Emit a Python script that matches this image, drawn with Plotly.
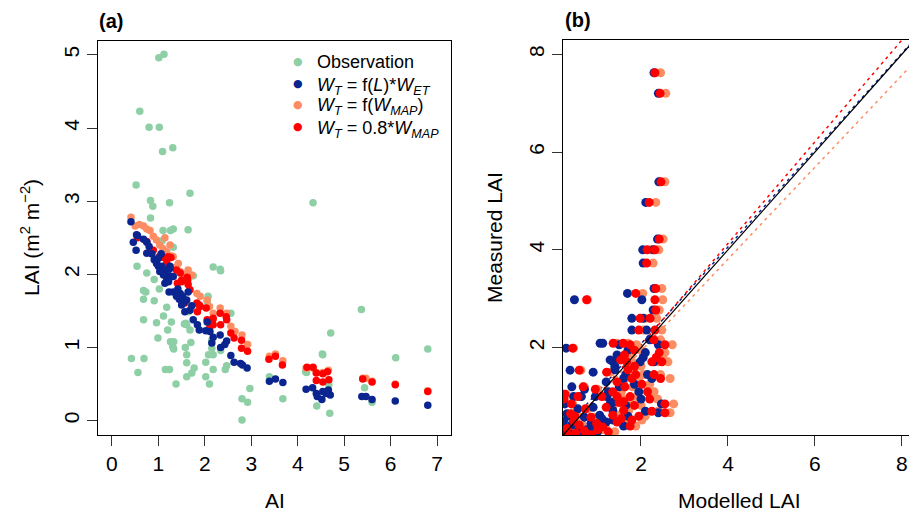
import plotly.graph_objects as go

# ---------------- Panel (a): LAI vs AI ----------------
obs_ai = [1.01,1.12,0.60,0.80,1.02,1.09,1.31,0.52,1.68,0.83,0.88,1.24,4.33,0.83,1.10,1.26,1.32,1.64,1.32,1.08,
          0.54,0.75,0.91,1.75,0.68,0.73,0.68,0.91,1.02,1.18,1.11,0.68,0.96,1.28,1.20,0.99,1.26,1.33,1.31,1.33,
          1.58,1.61,1.61,0.42,0.69,0.56,1.15,1.24,1.38,1.61,1.72,1.77,1.70,1.68,1.72,1.61,1.56,
          2.07,2.05,2.18,2.33,2.34,2.02,2.02,2.10,2.18,2.08,2.18,2.15,2.15,2.34,2.44,2.47,2.56,2.80,2.92,2.97,
          2.80,3.39,3.68,4.41,4.17,4.53,4.71,4.69,5.37,4.54,4.67,5.44,5.60,6.11,6.80,4.19,1.65,1.59]
obs_lai = [4.96,5.01,4.23,4.01,4.01,3.68,3.73,3.22,3.11,3.01,2.93,2.98,2.98,2.77,2.60,2.60,2.62,2.61,2.37,2.46,
           2.11,2.02,1.93,1.98,1.78,1.76,1.66,1.64,1.80,1.55,1.43,1.38,1.34,1.35,1.24,1.13,1.08,1.08,1.01,0.98,
           1.00,0.90,0.79,0.85,0.85,0.66,0.70,0.70,0.50,0.60,0.65,0.72,1.07,1.24,1.98,1.31,1.32,
           1.70,1.63,2.10,2.07,2.05,0.80,0.60,0.50,0.70,0.90,0.90,1.10,0.99,0.96,0.70,0.75,1.47,0.30,0.25,0.44,
           0.01,0.60,0.30,0.20,0.67,0.91,1.20,0.10,1.52,0.90,0.49,0.45,0.25,0.86,0.98,0.66,1.49,1.33]

fl_ai = [0.41,0.53,0.46,0.68,0.75,0.80,0.52,1.06,0.86,0.55,0.96,1.07,1.14,1.25,1.21,1.32,
         0.75,0.91,0.96,1.00,1.03,1.11,1.18,1.14,1.25,1.29,1.23,1.32,1.39,1.47,1.52,1.61,1.64,1.50,1.57,1.68,
         1.72,1.75,1.84,1.88,
         2.05,2.02,2.11,2.18,2.15,2.33,2.34,2.43,2.47,2.56,2.63,2.77,2.91,2.81,3.39,3.52,3.68,4.18,4.32,4.40,
         4.42,4.52,4.54,4.66,4.70,4.61,5.38,5.47,5.60,6.10,6.80,
         1.42,1.45,1.55,1.22,1.00]
fl_lai = [2.72,2.54,2.44,2.48,2.44,2.38,2.33,2.28,2.28,2.53,2.18,2.11,2.06,2.11,1.99,1.97,
          2.29,2.20,2.15,2.11,2.04,1.99,1.92,1.88,2.08,1.97,1.76,1.76,1.70,1.74,1.70,1.65,1.76,1.58,1.49,1.51,
          1.57,1.38,1.31,1.24,
          1.35,1.23,1.22,1.14,1.06,1.17,1.00,1.04,1.09,0.89,0.80,0.78,0.72,0.76,0.54,0.57,0.52,0.43,0.45,0.37,
          0.33,0.29,0.40,0.42,0.35,0.37,0.33,0.33,0.29,0.27,0.21,
          1.80,1.66,1.62,1.90,2.22]

fmap_ai = [0.41,0.50,0.59,0.68,0.75,0.82,0.89,0.96,1.03,1.14,1.18,1.25,1.29,1.32,1.43,1.47,1.64,1.72,1.83,1.90,
           2.05,2.10,2.18,2.33,2.47,2.56,2.65,2.80,2.92,3.39,3.52,3.68,4.18,4.33,4.40,4.54,4.66,5.40,5.47,5.60,
           6.10,6.80,1.55,1.38,1.10]
fmap_lai = [2.78,2.66,2.68,2.66,2.62,2.60,2.52,2.47,2.40,2.50,2.31,2.40,2.25,2.24,2.15,2.04,2.06,1.99,1.74,1.70,
            1.65,1.56,1.47,1.54,1.47,1.29,1.22,1.17,1.04,0.88,0.91,0.82,0.72,0.72,0.66,0.66,0.69,0.58,0.58,0.54,
            0.50,0.41,2.00,2.10,2.35]

m08_ai = [0.83,0.89,1.02,1.11,1.27,1.18,1.39,1.47,1.62,1.26,1.41,1.50,1.62,1.64,1.68,1.83,1.90,1.84,2.05,2.11,
          1.57,1.21,1.21,1.50,1.63,1.88,2.03,2.18,2.18,2.33,2.34,2.46,2.47,2.17,2.56,2.63,2.79,2.79,2.92,3.38,
          3.52,3.67,4.20,4.33,4.40,4.40,4.54,4.64,4.54,4.67,5.40,5.60,6.10,6.80,0.75,0.55]
m08_lai = [2.34,2.33,2.24,2.23,2.23,2.16,2.06,2.02,1.96,1.97,1.88,1.92,1.93,1.86,1.79,1.61,1.56,1.49,1.38,1.29,
           1.61,2.24,2.11,1.90,1.92,1.58,1.54,1.40,1.31,1.47,1.31,1.42,1.38,1.38,1.20,1.13,1.10,0.99,0.95,0.84,
           0.88,0.76,0.73,0.73,0.65,0.55,0.64,0.67,0.53,0.56,0.57,0.53,0.49,0.40,2.45,2.50]

# ---------------- Panel (b): measured vs modelled ----------------
measured = [7.62,7.20,5.39,4.97,4.22,4.00,4.00,3.73,3.21,3.11, 2.98,2.98,2.77,2.60,2.60,2.36,2.36,2.16,2.09,2.09,
            2.06,2.06,1.99,1.95,1.85,1.80,1.75,1.71,1.71,1.71, 1.62,1.54,1.50,1.45,1.45,1.37,1.37,1.30,1.25,1.20,
            1.20,1.10,1.10,1.05,1.00,1.00,1.00,1.00,0.95,0.88, 0.85,0.85,0.82,0.78,0.75,0.72,0.70,0.67,0.65,0.62,
            0.60,0.58,0.52,0.50,0.48,0.45,0.42,0.40,0.35,0.32, 0.30,0.28,0.25,0.22,0.22,0.95,0.60,0.38,1.15,0.90,
            0.55,1.55,1.90]
mod_fl = [2.30,2.40,2.41,2.11,2.38,2.04,2.28,2.05,2.30,1.69, 0.47,2.02,2.28,1.79,2.05,1.79,2.13,2.20,1.06,1.12,
          1.50,2.40,0.28,1.70,1.45,2.05,1.29,1.36,1.98,2.30, 1.40,0.37,0.90,1.65,2.15,1.60,2.25,1.20,1.85,0.41,
          1.50,1.25,1.95,0.20,0.63,0.95,1.22,0.45,2.00,1.30, 2.47,0.25,1.65,0.90,0.55,1.35,2.10,2.40,0.30,1.05,
          1.70,0.70,1.36,0.22,1.20,0.85,0.40,1.60,0.20,0.75, 0.55,1.00,0.35,0.60,0.25,0.20,0.35,0.90,0.70,1.40,
          1.10,1.40,2.10]
mod_m08 = [2.32,2.44,2.46,2.19,2.42,2.14,2.32,2.13,2.34,1.88, 0.75,2.32,2.34,1.98,2.21,1.95,2.32,2.30,1.36,1.59,
           1.75,2.55,0.43,1.85,1.62,2.35,1.53,1.67,2.25,2.48, 1.85,0.58,1.21,1.88,2.30,1.79,2.45,1.45,2.02,0.67,
           1.63,1.35,2.15,0.25,1.10,1.45,1.75,0.55,2.20,1.50, 2.55,0.40,1.85,1.20,0.72,1.60,2.25,2.55,0.38,1.35,
           1.95,0.85,1.79,0.45,1.45,0.98,0.58,1.75,0.30,1.00, 0.70,1.25,0.50,0.85,0.32,0.22,0.48,1.12,0.95,1.60,
           1.55,1.70,2.42]
mod_fmap = [2.45,2.57,2.55,2.34,2.51,2.22,2.41,2.28,2.48,2.04, 0.77,2.50,2.42,2.10,2.36,2.05,2.48,2.45,1.45,1.70,
            1.90,2.72,0.45,2.00,1.78,2.50,1.66,1.80,2.40,2.62, 2.00,0.62,1.30,2.05,2.45,1.95,2.67,1.60,2.20,0.70,
            1.80,1.55,2.30,0.28,1.15,1.55,1.90,0.60,2.38,1.62, 2.75,0.43,2.00,1.35,0.78,1.72,2.40,2.67,0.42,1.48,
            2.10,0.92,2.02,0.50,1.55,1.05,0.65,1.88,0.35,1.10, 0.80,1.40,0.55,0.95,0.38,0.25,0.55,1.18,1.00,1.75,
            1.65,1.82,2.55]

# regression lines (fL, fMAP, 0.8 MAP) and 1:1
fit_slopes = [0.99, 0.94, 1.04]
fit_intercepts = [0.10, 0.05, -0.03]

legend_labels = ["Observation",
                 "<i>W</i><sub><i>T</i></sub> = f(<i>L</i>)*<i>W</i><sub><i>ET</i></sub>",
                 "<i>W</i><sub><i>T</i></sub> = f(<i>W</i><sub><i>MAP</i></sub>)",
                 "<i>W</i><sub><i>T</i></sub> = 0.8*<i>W</i><sub><i>MAP</i></sub>"]

C_OBS = "#8ecfa6"
C_FL = "#0a2490"
C_FMAP = "#fc8d62"
C_M08 = "#ff0000"
legend_colors = [C_OBS, C_FL, C_FMAP, C_M08]

FONT = "Liberation Sans, Arial, sans-serif"
# page body has an 8px margin: figure is drawn 8px in from the window's top-left corner
OFF = 8
W, H = 917 - OFF, 512 - OFF

fig = go.Figure()

# Panel (a) traces, draw order: obs, fmap, m08, fl
fig.add_trace(go.Scatter(x=obs_ai, y=obs_lai, mode="markers", name="Observation",
                         marker=dict(color=C_OBS, size=7.5), xaxis="x", yaxis="y"))
fig.add_trace(go.Scatter(x=fmap_ai, y=fmap_lai, mode="markers", name="W_T = f(W_MAP)",
                         marker=dict(color=C_FMAP, size=7.5), xaxis="x", yaxis="y"))
fig.add_trace(go.Scatter(x=m08_ai, y=m08_lai, mode="markers", name="W_T = 0.8*W_MAP",
                         marker=dict(color=C_M08, size=7.5), xaxis="x", yaxis="y"))
fig.add_trace(go.Scatter(x=fl_ai, y=fl_lai, mode="markers", name="W_T = f(L)*W_ET",
                         marker=dict(color=C_FL, size=7.5), xaxis="x", yaxis="y"))

# Panel (b)
xr_b = [0.2, 8.3]
line_cols = [C_FL, C_FMAP, C_M08]
for s, b, c in zip(fit_slopes, fit_intercepts, line_cols):
    fig.add_trace(go.Scatter(x=xr_b, y=[s * xr_b[0] + b, s * xr_b[1] + b], mode="lines",
                             line=dict(color=c, width=1.5, dash="3px,4px"),
                             hoverinfo="skip", xaxis="x2", yaxis="y2"))
fig.add_trace(go.Scatter(x=mod_fmap, y=measured, mode="markers", marker=dict(color=C_FMAP, size=9),
                         xaxis="x2", yaxis="y2"))
fig.add_trace(go.Scatter(x=mod_fl, y=measured, mode="markers", marker=dict(color=C_FL, size=9),
                         xaxis="x2", yaxis="y2"))
fig.add_trace(go.Scatter(x=mod_m08, y=measured, mode="markers", marker=dict(color=C_M08, size=9),
                         xaxis="x2", yaxis="y2"))
fig.add_trace(go.Scatter(x=xr_b, y=xr_b, mode="lines", line=dict(color="black", width=1.2),
                         hoverinfo="skip", xaxis="x2", yaxis="y2"))

def px_x(p):
    return (p - OFF) / W

def px_y(p):
    return 1 - (p - OFF) / H

axis_common = dict(showline=True, mirror=True, linecolor="black", linewidth=1.2,
                   ticks="outside", ticklen=10, tickcolor="#333", tickwidth=1.2,
                   showgrid=False, zeroline=False,
                   tickfont=dict(family=FONT, size=21, color="black"))

fig.update_layout(
    width=W, height=H,
    margin=dict(l=0, r=0, t=0, b=0),
    paper_bgcolor="white", plot_bgcolor="white",
    font=dict(family=FONT, color="black"),
    showlegend=False,
    xaxis=dict(domain=[px_x(98), px_x(451)], range=[-0.3, 7.3], tickvals=[0, 1, 2, 3, 4, 5, 6, 7],
               anchor="y", **axis_common),
    yaxis=dict(domain=[px_y(435), px_y(41)], range=[-0.196, 5.19], tickvals=[0, 1, 2, 3, 4, 5],
               tickangle=-90, anchor="x", **axis_common),
    xaxis2=dict(domain=[px_x(563), px_x(915)], range=[0.207, 8.3], tickvals=[2, 4, 6, 8],
                anchor="y2", **axis_common),
    yaxis2=dict(domain=[px_y(435), px_y(40)], range=[0.215, 8.29], tickvals=[2, 4, 6, 8],
                tickangle=-90, anchor="x2", **axis_common),
)

ann = [
    dict(text="<b>(a)</b>", x=px_x(97), y=px_y(21), xanchor="left", yanchor="middle", size=20),
    dict(text="<b>(b)</b>", x=px_x(563), y=px_y(20), xanchor="left", yanchor="middle", size=20),
    dict(text="AI", x=px_x(274.5), y=px_y(500), xanchor="center", yanchor="middle", size=21),
    dict(text="Modelled LAI", x=px_x(739), y=px_y(500), xanchor="center", yanchor="middle", size=21),
    dict(text="LAI (m<sup>2</sup> m<sup>\u22122</sup>)", x=px_x(30), y=px_y(238), xanchor="center",
         yanchor="middle", size=21, angle=-90),
    dict(text="Measured LAI", x=px_x(495), y=px_y(238), xanchor="center", yanchor="middle", size=21,
         angle=-90),
]
for a in ann:
    fig.add_annotation(text=a["text"], x=a["x"], y=a["y"], xref="paper", yref="paper",
                       xanchor=a["xanchor"], yanchor=a["yanchor"], showarrow=False,
                       textangle=a.get("angle", 0),
                       font=dict(family=FONT, size=a["size"], color="black"))

# legend (inside panel a, top right): bullet + label per entry
row_y = [62, 83, 104, 126]
for i, (lab, col) in enumerate(zip(legend_labels, legend_colors)):
    fig.add_annotation(text="\u25cf", x=px_x(298), y=px_y(row_y[i]), xref="paper", yref="paper",
                       xanchor="center", yanchor="middle", showarrow=False,
                       font=dict(family="DejaVu Sans", size=11, color=col))
    shift = 0 if i == 0 else 3
    fig.add_annotation(text=lab, x=px_x(315), y=px_y(row_y[i] + shift), xref="paper", yref="paper",
                       xanchor="left", yanchor="middle", showarrow=False,
                       font=dict(family=FONT, size=18, color="black"))

fig.write_html("out.html")
